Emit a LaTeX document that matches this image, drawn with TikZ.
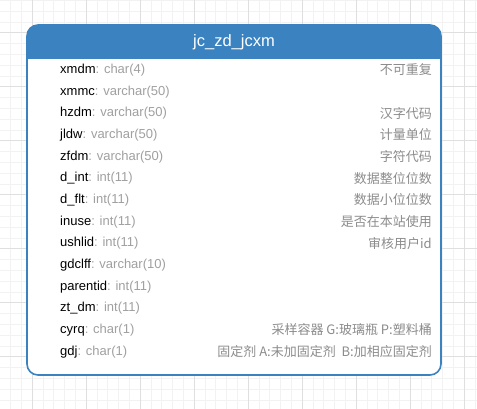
\documentclass[tikz,border=0pt]{standalone}
\usepackage{fontspec}
\setmainfont{Liberation Sans}
\newfontfamily\cjk{Noto Sans CJK SC}
\definecolor{hdr}{HTML}{3A82C0}
\definecolor{typegray}{HTML}{A0A0A0}
\definecolor{notegray}{HTML}{8C8C8C}
\definecolor{gridminor}{HTML}{F2F2F2}
\definecolor{gridmajor}{HTML}{DFDFDF}

\begin{document}
\begin{tikzpicture}[x=1pt,y=-1pt,
  title/.style={text=white,inner sep=0pt,font=\fontsize{16.5}{16}\selectfont},
  field/.style={anchor=west,inner sep=0pt,font=\fontsize{13}{13}\selectfont},
  note/.style={anchor=east,inner sep=0pt,text=notegray,font=\fontsize{13}{13}\selectfont\cjk}]
\useasboundingbox (0,0) rectangle (477,409);
\foreach \k in {0,...,43} \draw[gridminor] ({10.4+10.8*\k},0) -- ({10.4+10.8*\k},409);
\foreach \k in {0,...,37} \draw[gridminor] (0,{0.2+10.8*\k}) -- (477,{0.2+10.8*\k});
\foreach \k in {0,...,8} \draw[gridmajor] ({32+54*\k},0) -- ({32+54*\k},409);
\foreach \k in {0,...,6} \draw[gridmajor] (0,{32.6+54*\k}) -- (477,{32.6+54*\k});
\draw[hdr,line width=1.6pt,fill=white,rounded corners=11] (27,25) rectangle (441,375);
\fill[hdr,rounded corners=11] (27,59) -- (27,25) -- (441,25) -- (441,59);
\node[title] (tbl) at (234,42) {jc\_zd\_jcxm};
\foreach \i/\f/\t in {1/xmdm/char(4), 2/xmmc/varchar(50), 3/hzdm/varchar(50),
    4/jldw/varchar(50), 5/zfdm/varchar(50), 6/d\_int/int(11), 7/d\_flt/int(11),
    8/inuse/int(11), 9/ushlid/int(11), 10/gdclff/varchar(10), 11/parentid/int(11),
    12/zt\_dm/int(11), 13/cyrq/char(1), 14/gdj/char(1)}
  \node[field] (f\i) at (60,{48.3+21.67*\i}) {\f\textcolor{typegray}{: \t}};
\foreach \i/\c in {1/不可重复, 3/汉字代码, 4/计量单位, 5/字符代码, 6/数据整位位数,
    7/数据小位位数, 8/是否在本站使用, 9/审核用户id, 13/采样容器 G:玻璃瓶 P:塑料桶,
    14/固定剂 A:未加固定剂~ B:加相应固定剂}
  \node[note] (c\i) at (432,{48.3+21.67*\i}) {\c};
\end{tikzpicture}
\end{document}
